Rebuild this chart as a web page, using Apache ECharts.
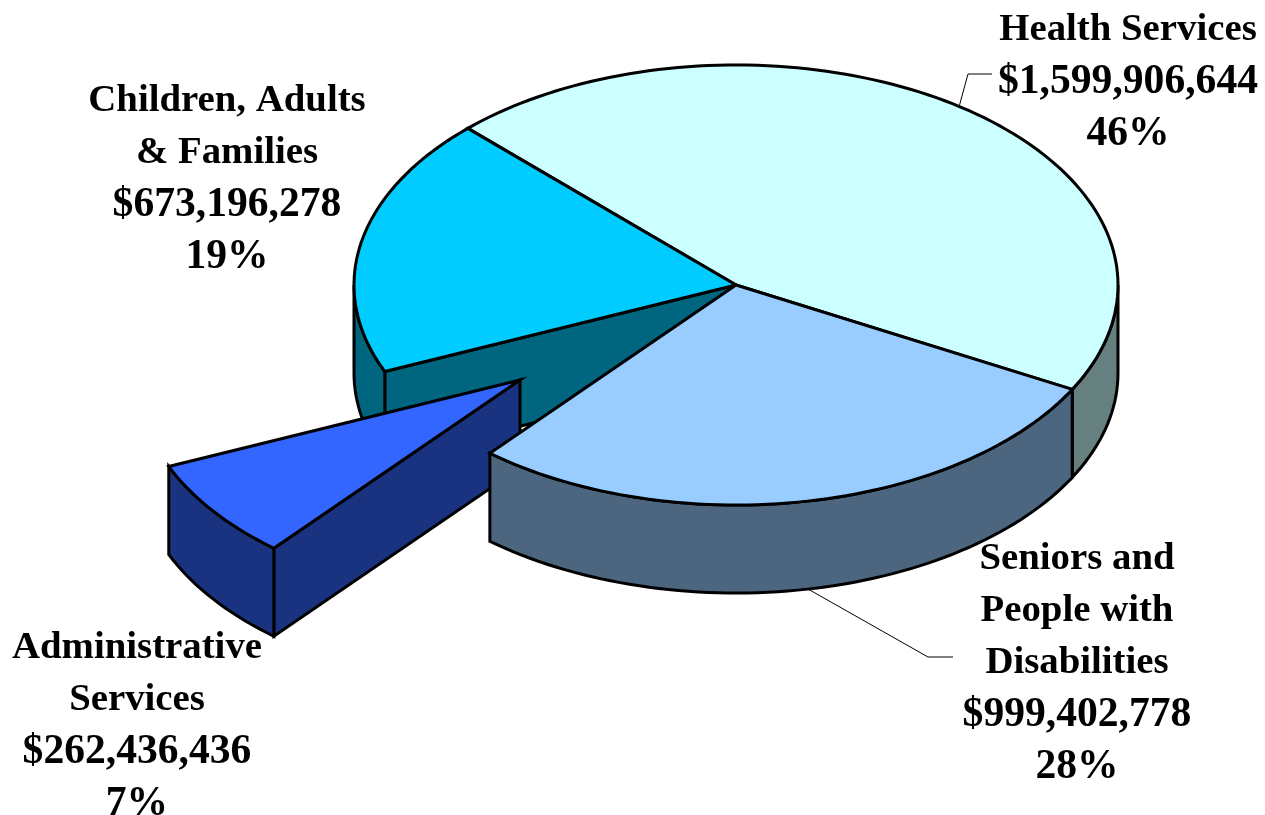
<!DOCTYPE html>
<html>
<head>
<meta charset="utf-8">
<style>html,body{margin:0;padding:0;background:#fff}#c{width:1265px;height:815px}</style>
<script src="https://cdn.jsdelivr.net/npm/echarts@6/dist/echarts.min.js"></script>
</head>
<body>
<div id="c"></div>
<script>
const categories = ['Health Services', 'Seniors and\nPeople with\nDisabilities', 'Administrative\nServices', 'Children, Adults\n& Families'];
const amounts = [1599906644, 999402778, 262436436, 673196278];
const percentLabels = ['46%', '28%', '7%', '19%'];
const topColors = ['#CCFFFF', '#99CCFF', '#3366FF', '#00CCFF'];
const wallColors = ['#668080', '#4C6680', '#1A3380', '#006680'];

const centre = { x: 736, y: 285 }, rx = 382, ry = 220, depth = 88;
const startAngle = -44.6;
const explodeShift = [[0, 0], [0, 0], [-216, 95], [0, 0]];
const paintLayer = [0, 20, 10, 0];
const labelPlace = [[1128, 79], [1077, 660], [137, 723], [227, 176]];
const leaders = [[[959, 107], [968, 74], [992, 74]], [[808, 589], [928, 657], [953, 657]], null, null];
const nameSize = 38.8, numberSize = 41.6, lineStep = 52;

const total = amounts.reduce((a, b) => a + b, 0);
function arcPoints(from, to, ox, oy) {
  const pts = [], n = Math.max(1, Math.ceil(Math.abs(to - from) / 1.5));
  for (let i = 0; i <= n; i++) {
    const t = (from + (to - from) * i / n) * Math.PI / 180;
    pts.push([centre.x + ox + rx * Math.sin(t), centre.y + oy - ry * Math.cos(t)]);
  }
  return pts;
}
function poly(points, fill, z2) {
  return { type: 'polygon', z2, shape: { points }, style: { fill, stroke: '#000', lineWidth: 3, lineJoin: 'miter' } };
}
function renderItem(params, api) {
  const i = params.dataIndex;
  const sum = amounts.slice(0, i).reduce((a, b) => a + b, 0);
  const a0 = startAngle + sum / total * 360;
  const a1 = a0 + api.value(0) / total * 360;
  const [ox, oy] = explodeShift[i];
  const base = paintLayer[i];
  const apex = [centre.x + ox, centre.y + oy];
  const children = [];
  const w0 = Math.max(a0, 90), w1 = Math.min(a1, 270);
  if (w1 > w0) {
    const rim = arcPoints(w0, w1, ox, oy);
    const low = rim.map(p => [p[0], p[1] + depth]).reverse();
    children.push(poly(rim.concat(low), wallColors[i], base + 2));
  }
  if (i === 2 || i === 3) {
    const e = arcPoints(a0, a0, ox, oy)[0];
    children.push(poly([apex, e, [e[0], e[1] + depth], [apex[0], apex[1] + depth]], wallColors[i], base + 1));
  }
  children.push(poly([apex].concat(arcPoints(a0, a1, ox, oy)), topColors[i], base + 5));
  if (leaders[i]) {
    children.push({ type: 'polyline', z2: 30, shape: { points: leaders[i] }, style: { fill: 'none', stroke: '#000', lineWidth: 1 } });
  }
  const lines = categories[i].split('\n').map(s => '{n|' + s + '}');
  lines.push('{v|$' + api.value(0).toLocaleString('en-US') + '}', '{v|' + percentLabels[i] + '}');
  const common = { fontFamily: 'Liberation Serif', fontWeight: 'bold', fill: '#000', lineHeight: lineStep, height: lineStep };
  children.push({
    type: 'text', z2: 40, x: labelPlace[i][0], y: labelPlace[i][1] + 3,
    style: {
      text: lines.join('\n'), fill: '#000', align: 'center', verticalAlign: 'middle',
      rich: {
        n: Object.assign({ fontSize: nameSize }, common),
        v: Object.assign({ fontSize: numberSize }, common)
      }
    }
  });
  return { type: 'group', children };
}
const chart = echarts.init(document.getElementById('c'), null, { renderer: 'canvas' });
chart.setOption({
  animation: false,
  backgroundColor: '#fff',
  series: [{
    type: 'custom',
    coordinateSystem: 'none',
    renderItem,
    data: amounts.map((v, i) => ({ name: categories[i], value: [v] }))
  }]
});
</script>
</body>
</html>
